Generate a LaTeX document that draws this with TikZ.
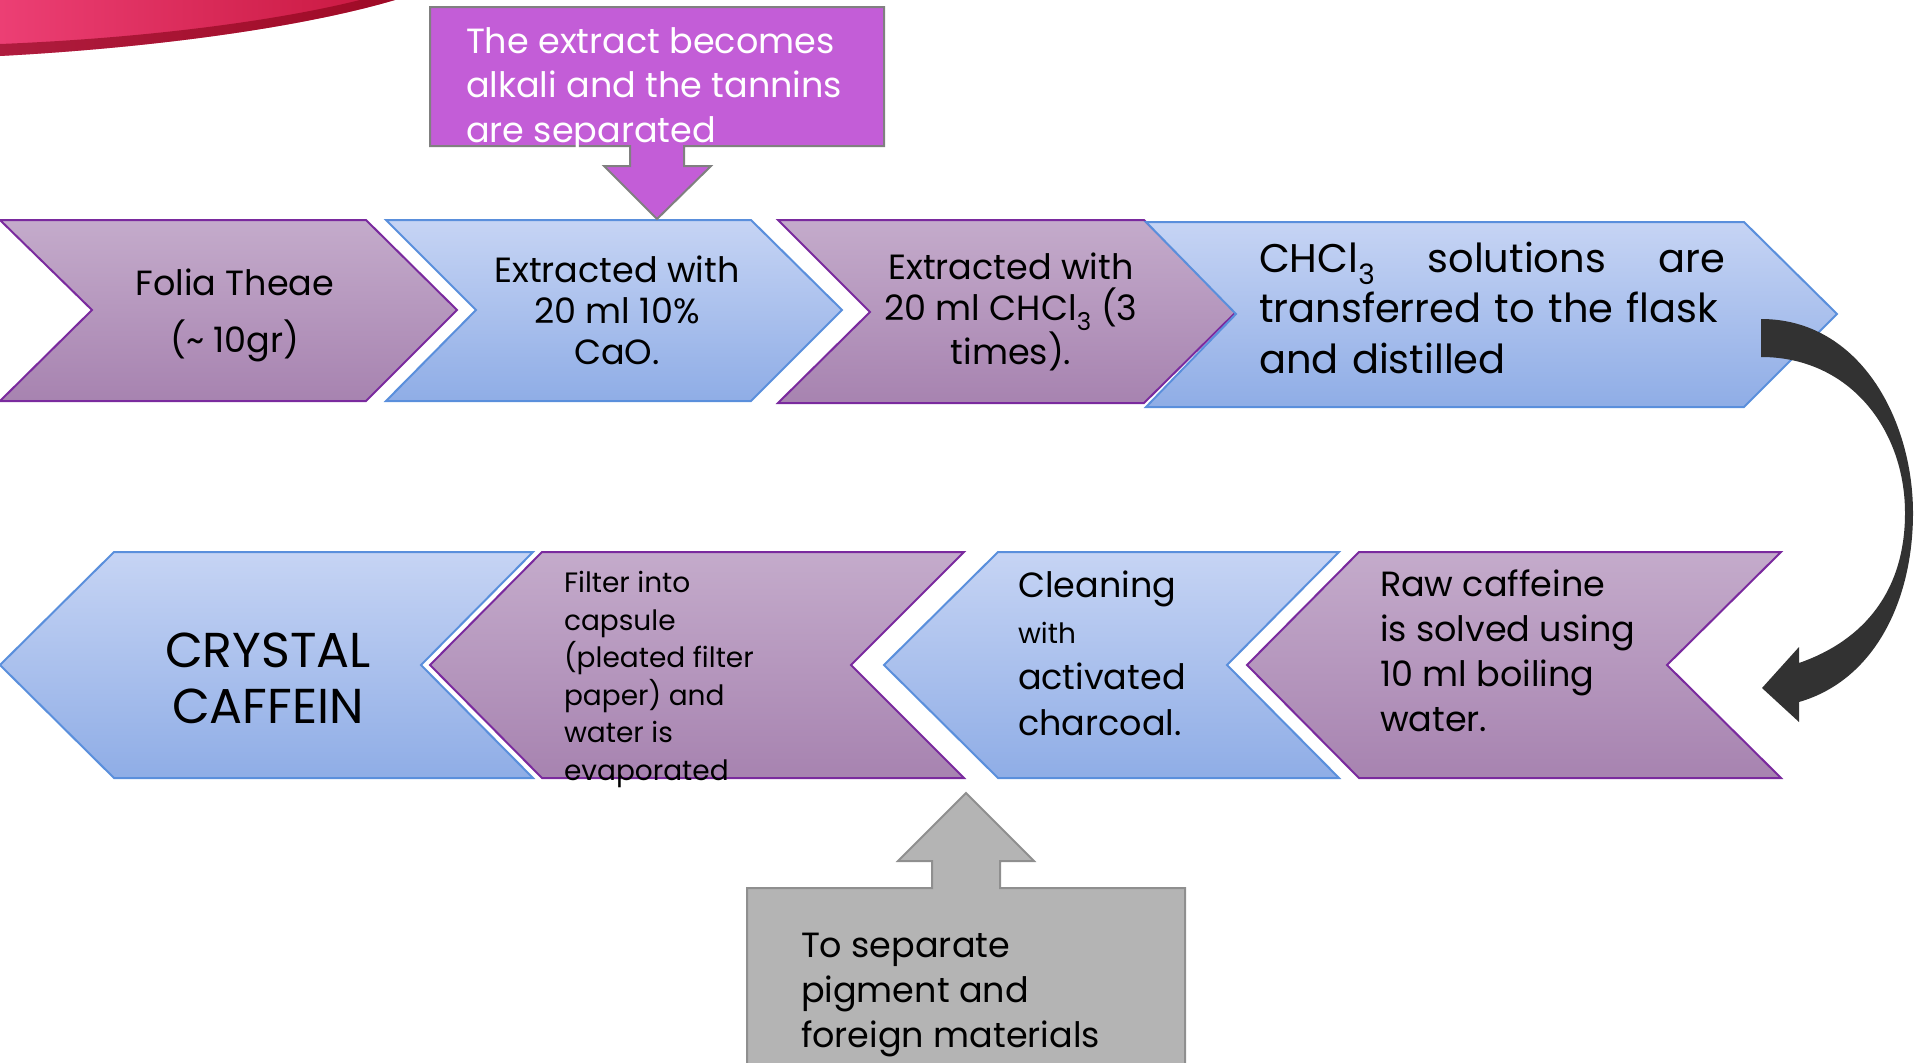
\documentclass[tikz,border=0pt]{standalone}
\usepackage{fontspec}
\setmainfont{Poppins}
\definecolor{ptop}{HTML}{C4ABCB}
\definecolor{pbot}{HTML}{A783B0}
\definecolor{pline}{HTML}{7A2A9E}
\definecolor{btop}{HTML}{C6D4F4}
\definecolor{bbot}{HTML}{8FADE6}
\definecolor{bline}{HTML}{5A8FDC}
\definecolor{callfill}{HTML}{C35DD7}
\definecolor{callline}{HTML}{808080}
\definecolor{grayfill}{HTML}{B4B4B4}
\definecolor{grayline}{HTML}{8F8F8F}
\definecolor{arrowfill}{HTML}{323232}
\definecolor{swA}{HTML}{EC3F74}
\definecolor{swB}{HTML}{C8173F}
\definecolor{swC}{HTML}{7E0012}
\newcommand\setfs[2]{\fontsize{#1}{#2}\selectfont}
\tikzset{
  purp/.style={draw=pline, line width=2pt, top color=ptop, bottom color=pbot},
  blu/.style={draw=bline, line width=2pt, top color=btop, bottom color=bbot},
  callp/.style={draw=callline, line width=2pt, fill=callfill},
  callg/.style={draw=grayline, line width=2pt, fill=grayfill},
  txt/.style={inner sep=0pt, outer sep=0pt, text=black},
}
\begin{document}
\begin{tikzpicture}[x=1pt,y=-1pt]
\useasboundingbox (0,0) rectangle (1915,1063);
\clip (0,0) rectangle (1915,1063);
% decorative swoosh
\shade[left color=swA, right color=swB] (0,0) -- (395,0) .. controls (300,28) and (150,48) .. (0,56) -- cycle;
\fill[swC, opacity=0.55] (395,0) .. controls (300,28) and (150,48) .. (0,56) -- (0,44) .. controls (150,38) and (280,20) .. (360,0) -- cycle;
% top row
\path[purp] (0,220) -- (366,220) -- (457,310) -- (366,401) -- (0,401) -- (92,310) -- cycle;
\path[blu] (386,220) -- (751,220) -- (842,310) -- (751,401) -- (386,401) -- (476,310) -- cycle;
\path[purp] (778,220) -- (1144,220) -- (1236,312) -- (1144,403) -- (778,403) -- (870,312) -- cycle;
\path[blu] (1146,222) -- (1744,222) -- (1837,314) -- (1744,407) -- (1146,407) -- (1236,314) -- cycle;
% bottom row
\path[purp] (1359,552) -- (1781,552) -- (1667,665) -- (1781,778) -- (1359,778) -- (1247,665) -- cycle;
\path[blu] (998,552) -- (1339,552) -- (1227,665) -- (1339,778) -- (998,778) -- (884,665) -- cycle;
\path[purp] (542,552) -- (964,552) -- (851,665) -- (964,778) -- (542,778) -- (430,665) -- cycle;
\path[blu] (114,552) -- (533,552) -- (421,665) -- (533,778) -- (114,778) -- (0,665) -- cycle;
% callouts
\path[callp] (430,7) -- (884,7) -- (884,146) -- (684,146) -- (684,166) -- (711,166) -- (657,219) -- (604,166) -- (630,166) -- (630,146) -- (430,146) -- cycle;
\path[callg] (747,1075) -- (747,888) -- (932,888) -- (932,861) -- (898,861) -- (966,793) -- (1034,861) -- (1000,861) -- (1000,888) -- (1185,888) -- (1185,1075) -- cycle;
% curved arrow
\fill[arrowfill] (1761,319) .. controls (1860,319) and (1913,420) .. (1913,513)
  .. controls (1913,600) and (1875,680) .. (1799,702) -- (1799,722) -- (1762,688) -- (1799,647) -- (1799,663)
  .. controls (1865,640) and (1905,590) .. (1905,513)
  .. controls (1905,430) and (1850,357) .. (1761,357) -- cycle;
% texts (base anchor = baseline of the last line)
\node[txt, anchor=base west, align=left, text=white, font=\setfs{35}{44.5}] (calltop) at (466,142) {The extract becomes\\alkali and the tannins\\are separated};
\node[txt, anchor=base, align=center, font=\setfs{35}{57}] (folia) at (235,352) {Folia Theae\\(\char`\~{} 10gr)};
\node[txt, anchor=base, align=center, font=\setfs{35}{41}] (cao) at (617,364) {Extracted with\\20 ml 10\%\\CaO.};
\node[txt, anchor=base, align=center, font=\setfs{35}{41}] (chcl) at (1011,364) {Extracted with\\20 ml CHCl\textsubscript{3} (3\\times).};
\node[txt, anchor=base west, align=left, text width=466pt, font=\setfs{40}{50.5}] (sol) at (1259,272) {CHCl\textsubscript{3}\hfill solutions\hfill are\\transferred to the flask\\and distilled};
\node[txt, anchor=base west, align=left, font=\setfs{35}{44.7}] (raw) at (1380,731) {Raw caffeine\\is solved using\\10 ml boiling\\water.};
\node[txt, anchor=base west, align=left, font=\setfs{35}{46}] (clean) at (1018,735) {Cleaning\\{\setfs{28}{46}with}\\activated\\charcoal.};
\node[txt, anchor=base west, align=left, font=\setfs{28}{37.5}] (filt) at (564,780) {Filter into\\capsule\\(pleated filter\\paper) and\\water is\\evaporated};
\node[txt, anchor=base, align=center, font=\setfs{49}{56}] (cryst) at (268,723) {CRYSTAL\\CAFFEIN};
\node[txt, anchor=base west, align=left, font=\setfs{35}{45}] (callbot) at (801,1047) {To separate\\pigment and\\foreign materials};
\end{tikzpicture}
\end{document}
